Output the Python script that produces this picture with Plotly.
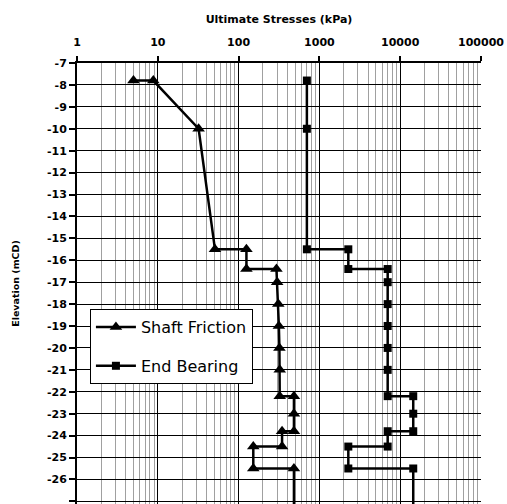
import plotly.graph_objects as go

# Shaft Friction (kPa) vs elevation (mCD)
sf_stress = [5, 8.8, 32, 51, 125, 125, 294, 300, 310, 315, 320, 323, 323, 484, 484, 484, 345, 345, 152, 152, 484, 484]
sf_elev = [-7.8, -7.8, -10, -15.5, -15.5, -16.4, -16.4, -17, -18, -19, -20, -21, -22.2, -22.2, -23.0, -23.8, -23.8, -24.5, -24.5, -25.5, -25.5, -28]

# End Bearing (kPa) vs elevation (mCD)
eb_stress = [700, 700, 700, 2280, 2280, 7000, 7000, 7000, 7000, 7000, 7000, 7000, 14500, 14500, 14500, 7000, 7000, 2280, 2280, 14500, 14500]
eb_elev = [-7.8, -10, -15.5, -15.5, -16.4, -16.4, -17, -18, -19, -20, -21, -22.2, -22.2, -23.0, -23.8, -23.8, -24.5, -24.5, -25.5, -25.5, -28]

x_ticks = [1, 10, 100, 1000, 10000, 100000]
x_ticktext = ["1", "10", "100", "1000", "10000", "100000"]
y_ticks = list(range(-27, -6))
y_ticktext = [str(v) for v in y_ticks]

FONT = "DejaVu Sans"
TICKFONT = dict(family=FONT, size=11, color="black", weight="bold")

fig = go.Figure()
fig.add_trace(go.Scatter(
    x=sf_stress, y=sf_elev, mode="lines+markers", name="Shaft Friction",
    line=dict(color="black", width=2.5),
    marker=dict(symbol="triangle-up", size=11, color="black"),
    legendgroup="a",
))
fig.add_trace(go.Scatter(
    x=eb_stress, y=eb_elev, mode="lines+markers", name="End Bearing",
    line=dict(color="black", width=2.5),
    marker=dict(symbol="square", size=8, color="black"),
    legendgroup="b",
))

fig.update_layout(
    width=507, height=504,
    margin=dict(l=77, r=26, t=63, b=0),
    paper_bgcolor="white", plot_bgcolor="white",
    font=dict(family=FONT, color="black"),
    showlegend=True,
    legend=dict(
        x=0.032, y=0.442, xanchor="left", yanchor="top",
        bgcolor="white", bordercolor="black", borderwidth=1,
        font=dict(family=FONT, size=16, color="black"),
        itemwidth=40, tracegroupgap=15,
    ),
    xaxis=dict(
        type="log", range=[0, 5], side="top",
        tickmode="array", tickvals=x_ticks, ticktext=x_ticktext,
        tickfont=TICKFONT, ticklabelstandoff=6,
        ticks="outside", ticklen=5, tickwidth=2, tickcolor="black",
        showline=True, linecolor="black", linewidth=2,
        showgrid=True, gridcolor="black", gridwidth=1,
        minor=dict(dtick="D1", showgrid=True, gridcolor="#a0a0a0", gridwidth=1, ticks=""),
        zeroline=False,
        title=dict(text="Ultimate Stresses (kPa)", standoff=10,
                   font=dict(family=FONT, size=11, color="black", weight="bold")),
    ),
    yaxis=dict(
        range=[-27.12, -7],
        tickmode="array", tickvals=y_ticks, ticktext=y_ticktext,
        tickfont=TICKFONT,
        ticks="outside", ticklen=6, tickwidth=1.5, tickcolor="black",
        showline=True, linecolor="black", linewidth=2,
        showgrid=True, gridcolor="black", gridwidth=1,
        zeroline=False,
        title=dict(text="Elevation (mCD)", standoff=26,
                   font=dict(family=FONT, size=9.5, color="black", weight="bold")),
    ),
)

fig.write_html("out.html")
